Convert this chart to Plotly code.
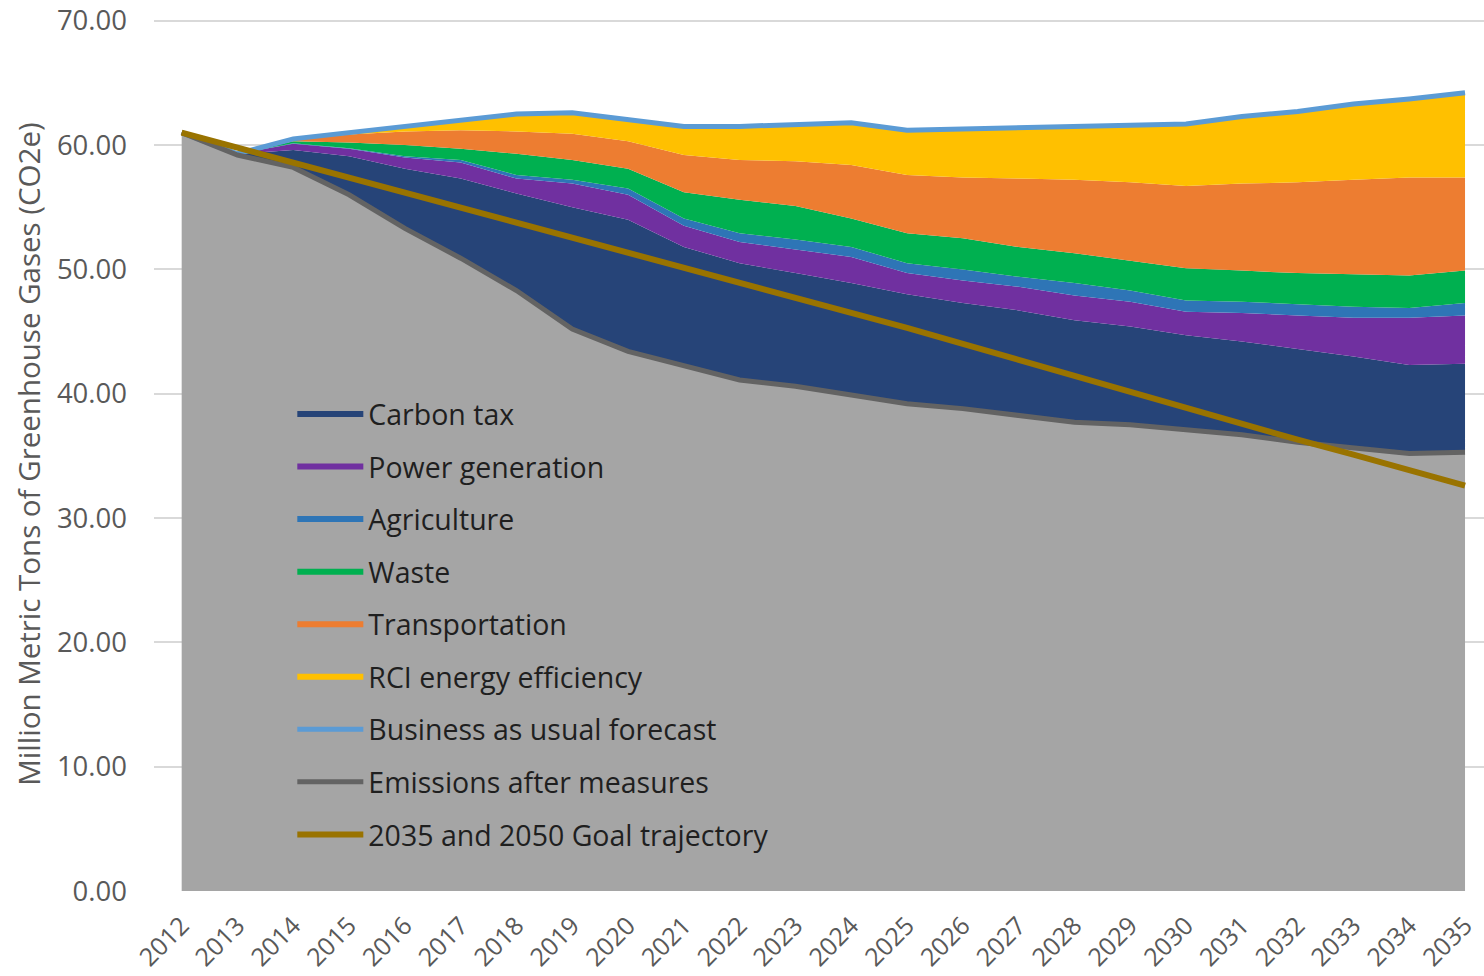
import plotly.graph_objects as go

years = list(range(2012, 2036))
year_labels = [str(y) for y in years]

# Emissions after measures (grey base)
emissions_after = [61.0, 59.2, 58.2, 56.0, 53.3, 50.9, 48.3, 45.2, 43.4, 42.2, 41.1, 40.6,
                   39.9, 39.2, 38.8, 38.3, 37.7, 37.5, 37.1, 36.7, 36.1, 35.7, 35.2, 35.3]
carbon_tax = [0.0, 0.1, 1.4, 3.1, 4.8, 6.4, 7.8, 9.8, 10.6, 9.6, 9.4, 9.1,
              9.0, 8.8, 8.5, 8.4, 8.2, 7.9, 7.6, 7.5, 7.5, 7.3, 7.1, 7.1]
power_generation = [0.0, 0.0, 0.5, 0.6, 0.9, 1.3, 1.2, 1.9, 2.0, 1.7, 1.7, 1.9,
                    2.1, 1.7, 1.8, 1.9, 2.0, 2.0, 1.9, 2.3, 2.7, 3.1, 3.8, 3.9]
agriculture = [0.0, 0.0, 0.05, 0.05, 0.1, 0.2, 0.3, 0.3, 0.5, 0.6, 0.7, 0.8,
               0.8, 0.8, 0.9, 0.8, 1.0, 0.9, 0.9, 0.9, 0.9, 0.9, 0.8, 1.0]
waste = [0.0, 0.0, 0.15, 0.45, 0.9, 0.9, 1.7, 1.6, 1.6, 2.1, 2.7, 2.7,
         2.3, 2.4, 2.5, 2.4, 2.4, 2.4, 2.6, 2.5, 2.5, 2.6, 2.6, 2.6]
transportation = [0.0, 0.0, 0.1, 0.65, 1.1, 1.5, 1.8, 2.1, 2.2, 3.0, 3.2, 3.6,
                  4.3, 4.7, 4.9, 5.5, 5.9, 6.3, 6.6, 7.0, 7.3, 7.6, 7.9, 7.5]
rci_efficiency = [0.0, 0.0, 0.1, 0.15, 0.3, 0.8, 1.4, 1.7, 1.8, 2.3, 2.7, 3.0,
                  3.4, 3.6, 3.9, 4.2, 4.4, 4.6, 5.0, 5.4, 5.7, 6.1, 6.3, 6.8]
bau_forecast = [61.0, 59.3, 60.5, 61.0, 61.4, 62.0, 62.5, 62.6, 62.1, 61.5, 61.5, 61.7,
                61.8, 61.2, 61.3, 61.5, 61.6, 61.6, 61.7, 62.3, 62.7, 63.3, 63.7, 64.2]
goal_trajectory = [61.0, 59.8, 58.6, 57.4, 56.2, 55.0, 53.8, 52.6, 51.4, 50.2, 49.0, 47.8,
                   46.6, 45.3, 44.0, 42.7, 41.4, 40.1, 38.8, 37.5, 36.3, 35.1, 33.9, 32.6]

y_ticks = [0, 10, 20, 30, 40, 50, 60, 70]

FONT = "Open Sans"

fig = go.Figure()

fig.add_trace(go.Scatter(x=years, y=emissions_after, name="Emissions (area)", stackgroup="s",
                         mode="none", fillcolor="#A5A5A5", showlegend=False, hoverinfo="skip"))

areas = [
    ("Carbon tax", carbon_tax, "#264478"),
    ("Power generation", power_generation, "#7030A0"),
    ("Agriculture", agriculture, "#2E75B6"),
    ("Waste", waste, "#00B050"),
    ("Transportation", transportation, "#ED7D31"),
    ("RCI energy efficiency", rci_efficiency, "#FFC000"),
]
for name, vals, col in areas:
    fig.add_trace(go.Scatter(x=years, y=vals, name=name, stackgroup="s", mode="none",
                             fillcolor=col, legendgroup=name))

lines = [
    ("Business as usual forecast", bau_forecast, "#5B9BD5", 5),
    ("Emissions after measures", emissions_after, "#636363", 5),
    ("2035 and 2050 Goal trajectory", goal_trajectory, "#997300", 6),
]
for name, vals, col, w in lines:
    fig.add_trace(go.Scatter(x=years, y=vals, name=name, mode="lines",
                             line=dict(color=col, width=w), legendgroup=name))

fig.update_layout(
    width=1484, height=976,
    margin=dict(l=154, r=0, t=17, b=85),
    paper_bgcolor="white", plot_bgcolor="white",
    font=dict(family=FONT, color="#595959"),
    showlegend=True,
    legend=dict(x=0.104, y=0.5744, xanchor="left", yanchor="top",
                bgcolor="rgba(0,0,0,0)", font=dict(size=28.5, color="#1f1f1f", family=FONT),
                traceorder="grouped", tracegroupgap=12.5, itemwidth=66),
    xaxis=dict(range=[2011.504, 2035.34], tickmode="array", tickvals=years, ticktext=year_labels,
               tickangle=-45, tickfont=dict(size=25, color="#595959"), showgrid=False,
               zeroline=False, showline=False, ticks="", automargin=False,
               ticklabelstandoff=14),
    yaxis=dict(range=[0, 70.3], tickmode="array", tickvals=y_ticks,
               ticktext=[f"{v:.2f}" for v in y_ticks],
               tickfont=dict(size=27.5, color="#595959"), showgrid=True, gridcolor="#D9D9D9",
               gridwidth=2, zeroline=False, showline=False, ticks="", ticklabelstandoff=26,
               ticklabeloverflow="allow", automargin=False,
               title=dict(text="Million Metric Tons of Greenhouse Gases (CO2e)",
                          font=dict(size=29.5, color="#595959"), standoff=7)),
)

fig.write_html("out.html", config={"displayModeBar": False},
               post_script="document.body.style.margin='0';")
